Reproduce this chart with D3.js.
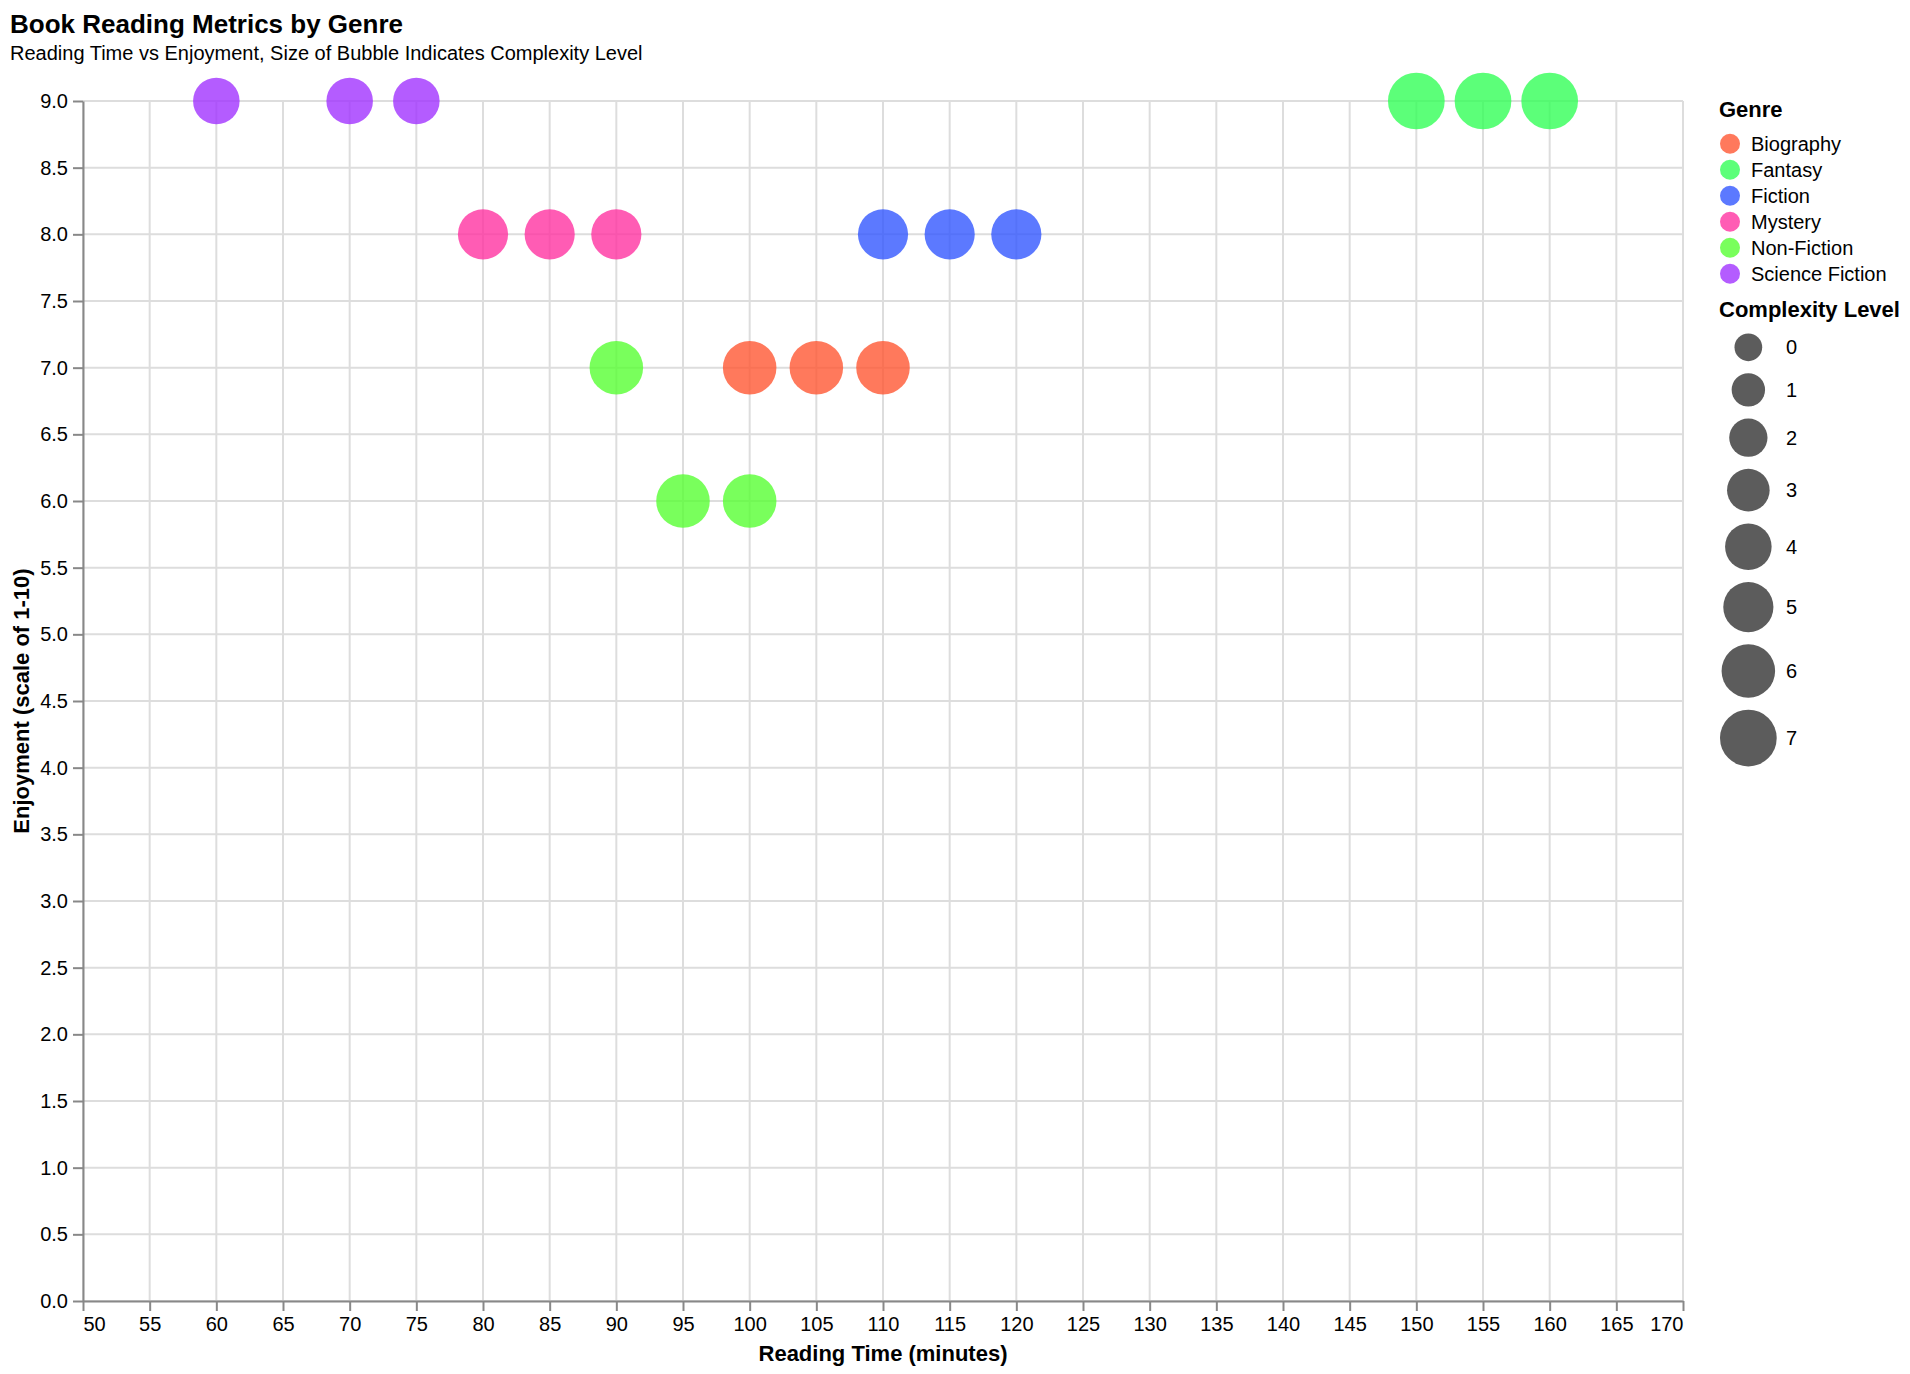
<!DOCTYPE html>
<html>
<head>
<meta charset="utf-8">
<script src="https://cdn.jsdelivr.net/npm/d3@7"></script>
<style>
  html, body { margin: 0; padding: 0; background: #fff; }
  svg text { font-family: "Liberation Sans", Arial, Helvetica, sans-serif; }
</style>
</head>
<body>
<svg id="chart" width="1910" height="1374"></svg>
<script>
// ---------- data ----------
const genres = ["Biography", "Fantasy", "Fiction", "Mystery", "Non-Fiction", "Science Fiction"];
const genreColors = ["#FF5733", "#33FF57", "#3357FF", "#FF33A1", "#57FF33", "#A133FF"];

const bookGenre = ["Science Fiction", "Science Fiction", "Science Fiction",
                   "Mystery", "Mystery", "Mystery",
                   "Fiction", "Fiction", "Fiction",
                   "Non-Fiction", "Non-Fiction", "Non-Fiction",
                   "Biography", "Biography", "Biography",
                   "Fantasy", "Fantasy", "Fantasy"];
const readingTime = [60, 70, 75, 80, 85, 90, 110, 115, 120, 90, 95, 100, 100, 105, 110, 150, 155, 160];
const enjoyment   = [9, 9, 9, 8, 8, 8, 8, 8, 8, 7, 6, 6, 7, 7, 7, 9, 9, 9];
const complexity  = [4, 4, 4, 5, 5, 5, 5, 5, 5, 6, 6, 6, 6, 6, 6, 7, 7, 7];

const xTicks = d3.range(50, 171, 5);
const yTicks = d3.range(0, 9.01, 0.5);
const sizeLegendValues = [0, 1, 2, 3, 4, 5, 6, 7];

const titleText = "Book Reading Metrics by Genre";
const subtitleText = "Reading Time vs Enjoyment, Size of Bubble Indicates Complexity Level";
const xTitle = "Reading Time (minutes)";
const yTitle = "Enjoyment (scale of 1-10)";

(function () {
// ---------- layout ----------
const svg = d3.select("#chart");
const pLeft = 83, pRight = 1683, pTop = 101, pBottom = 1301;

const x = d3.scaleLinear().domain([50, 170]).range([pLeft, pRight]);
const y = d3.scaleLinear().domain([0, 9]).range([pBottom, pTop]);
const color = d3.scaleOrdinal().domain(genres).range(genreColors);
// diameter^2 grows linearly with complexity
const sizeArea = d3.scaleLinear().domain([0, 7]).range([767, 3215]);
const diam = v => Math.sqrt(sizeArea(v));

const font = '"Liberation Sans", Arial, Helvetica, sans-serif';

// ---------- titles ----------
svg.append("text").attr("x", 10).attr("y", 33)
  .attr("font-size", 26).attr("font-weight", "bold").attr("fill", "#000")
  .text(titleText);
svg.append("text").attr("x", 10).attr("y", 60)
  .attr("font-size", 20).attr("fill", "#000")
  .text(subtitleText);

// ---------- grid ----------
const grid = svg.append("g");
grid.selectAll("line.v").data(xTicks).join("line")
  .attr("x1", d => x(d)).attr("x2", d => x(d))
  .attr("y1", pTop).attr("y2", pBottom)
  .attr("stroke", "#dddddd").attr("stroke-width", 2);
grid.selectAll("line.h").data(yTicks).join("line")
  .attr("x1", pLeft).attr("x2", pRight)
  .attr("y1", d => y(d)).attr("y2", d => y(d))
  .attr("stroke", "#dddddd").attr("stroke-width", 2);

// ---------- axes ----------
const xAxis = svg.append("g").attr("transform", `translate(0,${pBottom})`)
  .call(d3.axisBottom(x).tickValues(xTicks).tickSize(10).tickSizeOuter(0).tickPadding(6).tickFormat(d3.format("d")));
const yAxis = svg.append("g").attr("transform", `translate(${pLeft},0)`)
  .call(d3.axisLeft(y).tickValues(yTicks).tickSize(10).tickSizeOuter(0).tickPadding(5).tickFormat(d3.format(".1f")));

[xAxis, yAxis].forEach(a => {
  a.select(".domain").attr("stroke", "#888").attr("stroke-width", 2);
  a.selectAll(".tick line").attr("stroke", "#888").attr("stroke-width", 2);
  a.selectAll(".tick text").attr("font-size", 20).attr("fill", "#000").attr("font-family", font);
});
const xt = xAxis.selectAll(".tick text").nodes();
d3.select(xt[0]).attr("text-anchor", "start");
d3.select(xt[xt.length - 1]).attr("text-anchor", "end");

svg.append("text").attr("x", (pLeft + pRight) / 2).attr("y", 1361)
  .attr("text-anchor", "middle").attr("font-size", 22).attr("font-weight", "bold")
  .text(xTitle);
svg.append("text")
  .attr("transform", `translate(29,${(pTop + pBottom) / 2}) rotate(-90)`)
  .attr("text-anchor", "middle").attr("font-size", 22).attr("font-weight", "bold")
  .text(yTitle);

// ---------- bubbles ----------
const idx = d3.range(readingTime.length);
svg.append("g").selectAll("circle").data(idx).join("circle")
  .attr("cx", i => x(readingTime[i]))
  .attr("cy", i => y(enjoyment[i]))
  .attr("r", i => diam(complexity[i]) / 2)
  .attr("fill", i => color(bookGenre[i]))
  .attr("fill-opacity", 0.8);

// ---------- legends ----------
const lx = 1719;
const lg = svg.append("g");
lg.append("text").attr("x", lx).attr("y", 117)
  .attr("font-size", 22).attr("font-weight", "bold").text("Genre");
const ge = lg.selectAll("g.ge").data(genres).join("g")
  .attr("transform", (d, i) => `translate(0,${143.7 + i * 26})`);
ge.append("circle").attr("cx", lx + 11).attr("cy", 0).attr("r", 10)
  .attr("fill", d => color(d)).attr("fill-opacity", 0.8);
ge.append("text").attr("x", 1751).attr("y", 0).attr("dy", "0.35em")
  .attr("font-size", 20).text(d => d);

lg.append("text").attr("x", lx).attr("y", 317)
  .attr("font-size", 22).attr("font-weight", "bold").text("Complexity Level");
const maxD = diam(d3.max(sizeLegendValues));
const ys = [];
sizeLegendValues.forEach((v, i) => {
  if (i === 0) ys.push(347.3);
  else ys.push(ys[i - 1] + (diam(sizeLegendValues[i - 1]) + diam(v)) / 2 + 12);
});
const se = lg.selectAll("g.se").data(sizeLegendValues).join("g")
  .attr("transform", (d, i) => `translate(0,${ys[i]})`);
se.append("circle").attr("cx", lx + 1 + maxD / 2).attr("cy", 0).attr("r", d => diam(d) / 2)
  .attr("fill", "#5c5c5c");
se.append("text").attr("x", 1786).attr("y", 0).attr("dy", "0.35em")
  .attr("font-size", 20).text(d => d);
})();
</script>
</body>
</html>
